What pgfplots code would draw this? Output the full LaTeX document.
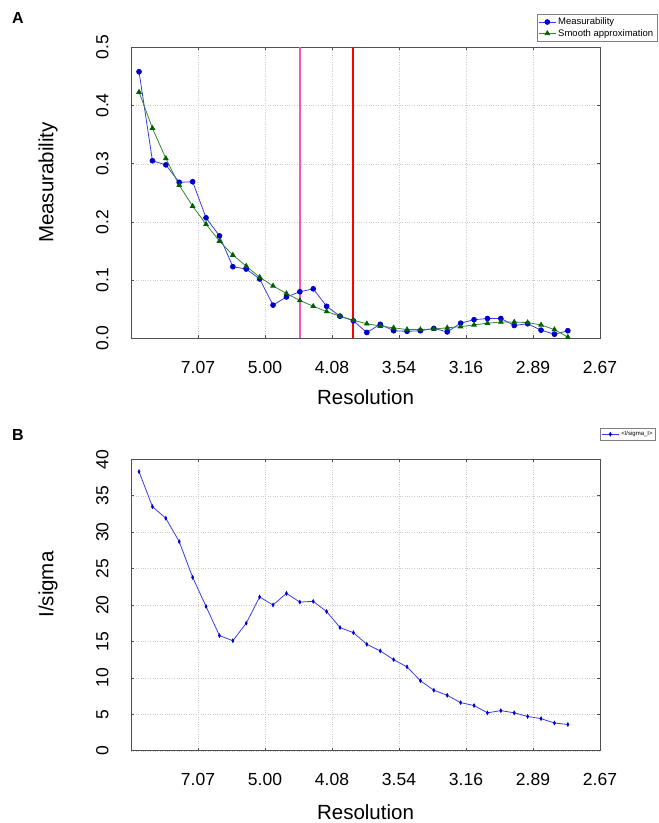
\documentclass[border=0pt]{standalone}
\usepackage{pgfplots}
\pgfplotsset{compat=1.18}
\usepackage{fontspec}
\setmainfont{Liberation Sans}
\definecolor{lblue}{RGB}{60,60,230}
\definecolor{mblue}{RGB}{0,0,205}
\definecolor{lgreen}{RGB}{50,140,50}
\definecolor{mgreen}{RGB}{0,95,0}
\definecolor{axframe}{RGB}{80,80,80}
\pgfplotsset{
  common/.style={
    scale only axis,
    width=469pt,
    xmin=0, xmax=0.14,
    xtick={0.02,0.04,0.06,0.08,0.10,0.12,0.14},
    xticklabels={7.07,5.00,4.08,3.54,3.16,2.89,2.67},
    /pgf/number format/assume math mode=true,
    tick label style={font=\fontsize{17.5}{21}\selectfont},
    xticklabel shift=19pt,
    yticklabel style={rotate=90, anchor=south},
    yticklabel shift=19pt,
    axis line style={axframe, line width=0.8pt},
    tick style={axframe, line width=0.6pt},
    major tick length=3pt,
    grid=major,
    grid style={dotted, gray!40},
    xlabel={Resolution},
    legend cell align=left,
  }
}
\pgfplotstableread{
x y
0.0504 0
0.0504 0.5
}\magtab
\pgfplotstableread{
x y
0.0664 0
0.0664 0.5
}\redtab
\begin{document}
\begin{tikzpicture}
\path[use as bounding box] (0,0) rectangle (659pt,823pt);
\node[font=\bfseries\fontsize{16}{18}\selectfont] at (18pt,805pt) {A};
\node[font=\bfseries\fontsize{16}{18}\selectfont] at (18pt,388pt) {B};
\begin{axis}[common,
  at={(131pt,484.7pt)}, anchor=south west,
  height=291pt,
  ymin=0, ymax=0.5,
  ytick={0,0.1,0.2,0.3,0.4,0.5},
  yticklabels={0.0,0.1,0.2,0.3,0.4,0.5},
  ylabel={Measurability},
  every axis y label/.style={at={(axis description cs:-0.177,0.535)}, rotate=90, anchor=center, font=\fontsize{20.5}{24}\selectfont},
  every axis x label/.style={at={(axis description cs:0.5,-0.203)}, anchor=center, font=\fontsize{20.5}{24}\selectfont},
  legend style={at={(axis description cs:1.1215,1.114)}, anchor=north east,
    font=\fontsize{9.5}{11}\selectfont, draw=gray, inner sep=1.5pt, row sep=-1pt},
]
\addplot[color=lblue, line width=0.8pt, mark=*, mark size=2.4pt, mark options={fill=mblue, draw=mblue}] coordinates {
(0.0024,0.458)(0.0064,0.305)(0.0104,0.298)(0.0144,0.268)(0.0184,0.269)(0.0224,0.207)
(0.0264,0.176)(0.0304,0.123)(0.0344,0.119)(0.0384,0.102)(0.0424,0.057)(0.0464,0.071)
(0.0504,0.080)(0.0544,0.085)(0.0584,0.055)(0.0624,0.038)(0.0664,0.030)(0.0704,0.010)
(0.0744,0.024)(0.0784,0.013)(0.0824,0.012)(0.0864,0.013)(0.0904,0.017)(0.0944,0.011)
(0.0984,0.026)(0.1024,0.032)(0.1064,0.034)(0.1104,0.034)(0.1144,0.022)(0.1184,0.025)
(0.1224,0.014)(0.1264,0.007)(0.1304,0.013)};
\addlegendentry{Measurability}
\addplot[color=lgreen, line width=0.8pt, mark=triangle*, mark size=2.6pt, mark options={fill=mgreen, draw=mgreen}] coordinates {
(0.0024,0.423)(0.0064,0.361)(0.0104,0.309)(0.0144,0.263)(0.0184,0.227)(0.0224,0.196)
(0.0264,0.167)(0.0304,0.143)(0.0344,0.124)(0.0384,0.105)(0.0424,0.090)(0.0464,0.077)
(0.0504,0.065)(0.0544,0.055)(0.0584,0.046)(0.0624,0.038)(0.0664,0.031)(0.0704,0.025)
(0.0744,0.021)(0.0784,0.018)(0.0824,0.015)(0.0864,0.015)(0.0904,0.016)(0.0944,0.018)
(0.0984,0.020)(0.1024,0.023)(0.1064,0.026)(0.1104,0.028)(0.1144,0.028)(0.1184,0.027)
(0.1224,0.023)(0.1264,0.015)(0.1304,0.002)};
\addlegendentry{Smooth approximation}
\addplot[draw=magenta!65!white, line width=1.6pt, mark=none, forget plot] table[x=x, y=y] {\magtab};
\addplot[draw=red, line width=2pt, mark=none, forget plot] table[x=x, y=y] {\redtab};
\end{axis}
\begin{axis}[common,
  at={(131pt,72.3pt)}, anchor=south west,
  height=291.4pt,
  ymin=0, ymax=40,
  ytick={0,5,10,15,20,25,30,35,40},
  ylabel={I/sigma},
  every axis y label/.style={at={(axis description cs:-0.177,0.57)}, rotate=90, anchor=center, font=\fontsize{20.5}{24}\selectfont},
  every axis x label/.style={at={(axis description cs:0.5,-0.21)}, anchor=center, font=\fontsize{20.5}{24}\selectfont},
  legend style={at={(axis description cs:1.119,1.107)}, anchor=north east,
    font=\fontsize{6}{7}\selectfont, draw=gray, inner sep=1pt},
]
\addplot[color=lblue, line width=0.8pt, mark=*, mark size=1.7pt, mark options={xscale=0.55, fill=mblue, draw=mblue}] coordinates {
(0.0024,38.3)(0.0064,33.5)(0.0104,31.9)(0.0144,28.7)(0.0184,23.8)(0.0224,19.8)
(0.0264,15.8)(0.0304,15.1)(0.0344,17.5)(0.0384,21.1)(0.0424,20.0)(0.0464,21.6)
(0.0504,20.4)(0.0544,20.5)(0.0584,19.1)(0.0624,16.9)(0.0664,16.2)(0.0704,14.6)
(0.0744,13.7)(0.0784,12.5)(0.0824,11.5)(0.0864,9.6)(0.0904,8.3)(0.0944,7.6)
(0.0984,6.6)(0.1024,6.2)(0.1064,5.2)(0.1104,5.5)(0.1144,5.2)(0.1184,4.7)
(0.1224,4.4)(0.1264,3.8)(0.1304,3.6)};
\addlegendentry{\textless I/sigma\_I\textgreater}
\end{axis}
\end{tikzpicture}
\end{document}
